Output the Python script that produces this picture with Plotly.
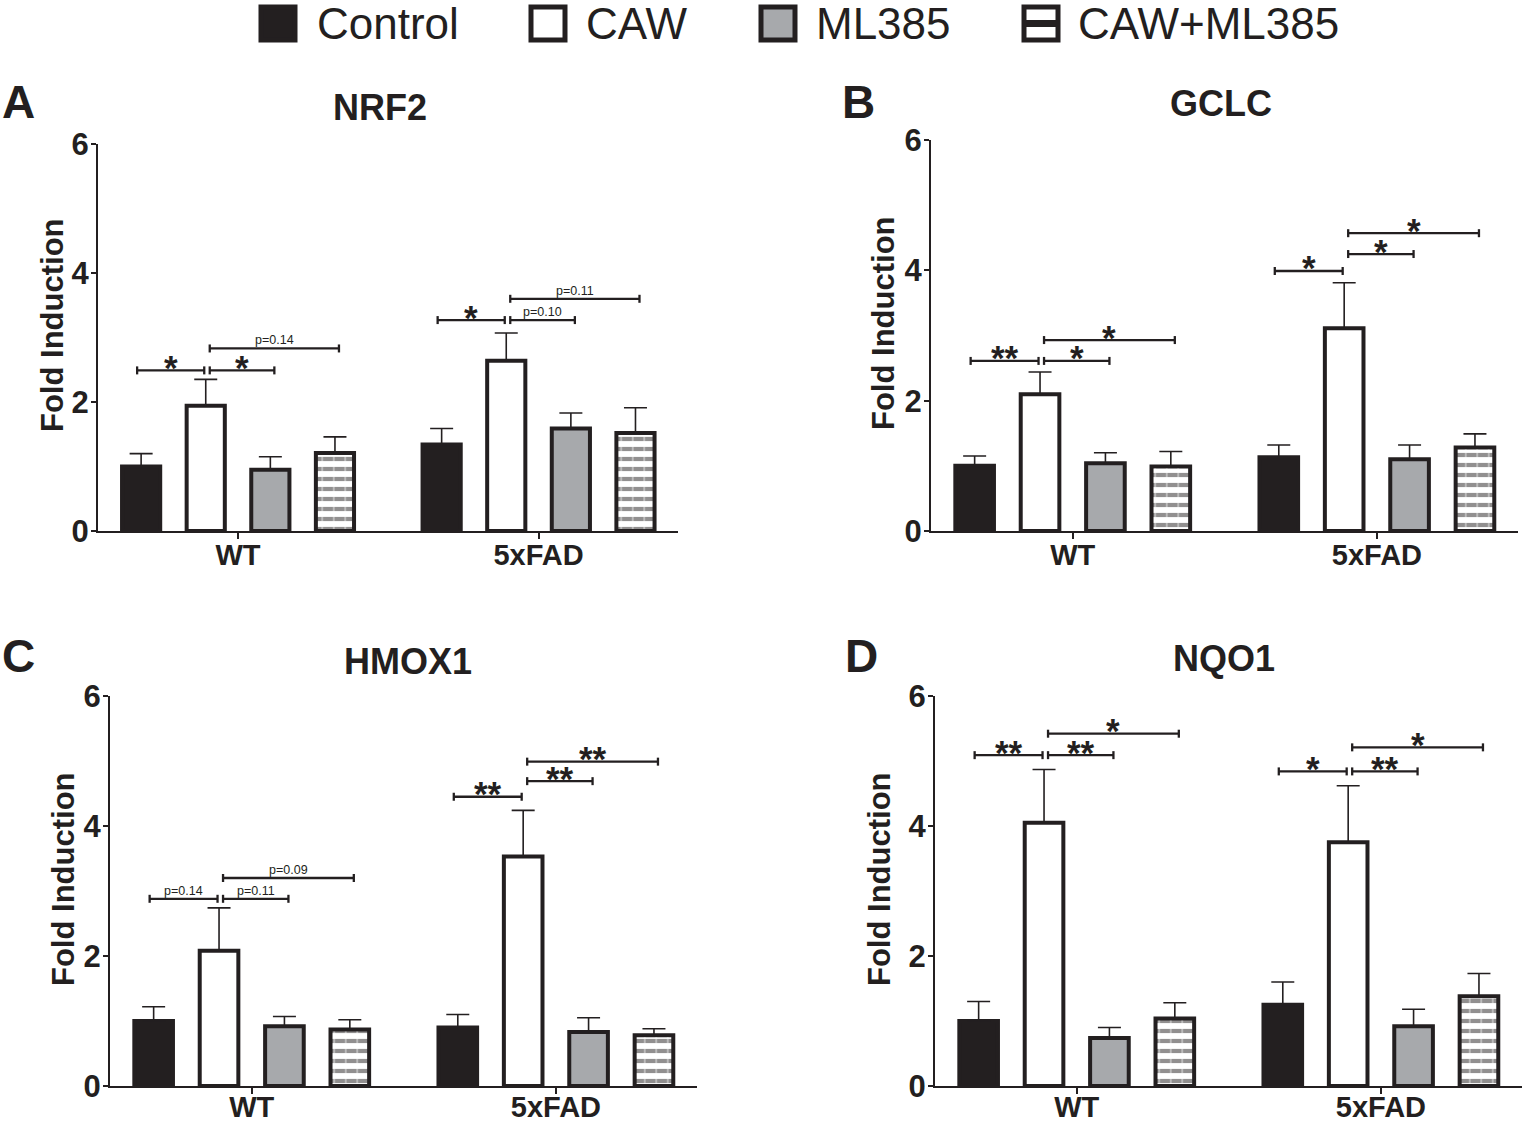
import plotly.graph_objects as go

# ---------------- data ----------------
groups = ["WT", "5xFAD"]
series = ["Control", "CAW", "ML385", "CAW+ML385"]
y_ticks = [0, 2, 4, 6]
panel_titles = ["NRF2", "GCLC", "HMOX1", "NQO1"]
panel_letters = ["A", "B", "C", "D"]
y_title = "Fold Induction"

# means per series (rows: Control, CAW, ML385, CAW+ML385; cols: WT, 5xFAD)
nrf2_mean = [[1.00, 1.34], [1.94, 2.64], [0.95, 1.59], [1.21, 1.52]]
nrf2_sem = [[0.20, 0.25], [0.41, 0.43], [0.20, 0.24], [0.25, 0.39]]
gclc_mean = [[1.00, 1.13], [2.10, 3.11], [1.04, 1.10], [0.99, 1.28]]
gclc_sem = [[0.15, 0.19], [0.34, 0.70], [0.16, 0.22], [0.23, 0.21]]
hmox1_mean = [[1.00, 0.90], [2.08, 3.53], [0.92, 0.83], [0.87, 0.78]]
hmox1_sem = [[0.22, 0.20], [0.66, 0.71], [0.15, 0.22], [0.15, 0.10]]
nqo1_mean = [[1.00, 1.25], [4.05, 3.75], [0.74, 0.92], [1.04, 1.38]]
nqo1_sem = [[0.30, 0.35], [0.82, 0.87], [0.16, 0.26], [0.24, 0.35]]

# significance brackets: (group index, series from, series to, height, label)
nrf2_sig = [(0, 0, 1, 2.49, "*"), (0, 1, 2, 2.49, "*"), (0, 1, 3, 2.83, "p=0.14"),
            (1, 0, 1, 3.27, "*"), (1, 1, 2, 3.27, "p=0.10"), (1, 1, 3, 3.60, "p=0.11")]
gclc_sig = [(0, 0, 1, 2.61, "**"), (0, 1, 2, 2.61, "*"), (0, 1, 3, 2.93, "*"),
            (1, 0, 1, 3.99, "*"), (1, 1, 2, 4.25, "*"), (1, 1, 3, 4.57, "*")]
hmox1_sig = [(0, 0, 1, 2.88, "p=0.14"), (0, 1, 2, 2.88, "p=0.11"), (0, 1, 3, 3.20, "p=0.09"),
             (1, 0, 1, 4.45, "**"), (1, 1, 2, 4.69, "**"), (1, 1, 3, 4.99, "**")]
nqo1_sig = [(0, 0, 1, 5.09, "**"), (0, 1, 2, 5.09, "**"), (0, 1, 3, 5.42, "*"),
            (1, 0, 1, 4.84, "*"), (1, 1, 2, 4.84, "**"), (1, 1, 3, 5.21, "*")]

panel_means = [nrf2_mean, gclc_mean, hmox1_mean, nqo1_mean]
panel_sems = [nrf2_sem, gclc_sem, hmox1_sem, nqo1_sem]
panel_sigs = [nrf2_sig, gclc_sig, hmox1_sig, nqo1_sig]

# ---------------- style / layout ----------------
W, H = 1524, 1122
BLACK = "#231f20"
GRAY = "#a7a9ac"
FONT = "Liberation Sans, Arial, sans-serif"
fills = [BLACK, "white", GRAY, "white"]

# plot boxes in pixels: (left, right, top(y=6), bottom(y=0))
boxes = [(98, 678, 144, 531), (931, 1518, 140, 531),
         (110, 697, 696, 1086), (935, 1522, 696, 1086)]
xlabel_standoff = [-9, -9, -12, -12]
XR = [-0.466, 1.464]
SPACING = 0.215
BAR_W = 0.127
LW = 4

title_pos = [(380, 108), (1221, 103), (408, 661), (1224, 658)]
letter_pos = [(0, 102), (840, 102), (0, 656), (843, 656)]
ytitle_pos = [(52, 325), (884, 323), (63, 879), (879, 879)]


def px(x):
    return x / W


def py(y):
    return 1 - y / H


fig = go.Figure()
shapes = []
annotations = []
layout_axes = {}

for k in range(4):
    x0, x1, yt, yb = boxes[k]
    sfx = "" if k == 0 else str(k + 1)
    xref, yref = "x" + sfx, "y" + sfx
    pxx = (x1 - x0) / (XR[1] - XR[0])
    pxy = (yb - yt) / 6.0
    layout_axes["xaxis" + sfx] = dict(
        domain=[px(x0), px(x1)], range=XR, anchor=yref, automargin=False,
        tickvals=[0, 1], ticktext=groups, showline=True, linecolor=BLACK,
        linewidth=2, ticks="outside", ticklen=6, tickwidth=2, tickcolor=BLACK,
        ticklabelstandoff=xlabel_standoff[k],
        tickfont=dict(family=FONT, size=29, color=BLACK, weight="bold"),
        showgrid=False, zeroline=False, fixedrange=True)
    layout_axes["yaxis" + sfx] = dict(
        domain=[py(yb), py(yt)], range=[0, 6], anchor=xref, automargin=False,
        tickvals=y_ticks, showline=True, linecolor=BLACK, linewidth=2,
        ticks="outside", ticklen=5, tickwidth=2, tickcolor=BLACK,
        ticklabelstandoff=-4,
        tickfont=dict(family=FONT, size=31, color=BLACK, weight="bold"),
        showgrid=False, zeroline=False, fixedrange=True)

    means, sems = panel_means[k], panel_sems[k]
    for i, name in enumerate(series):
        xs = [g + (i - 1.5) * SPACING for g in range(len(groups))]
        marker = dict(color=fills[i], line=dict(color=BLACK, width=LW))
        if i == 3:
            marker["pattern"] = dict(shape="-", fgcolor=BLACK, bgcolor="white",
                                     size=10, solidity=0.42)
        fig.add_trace(go.Bar(
            x=xs, y=means[i], width=BAR_W, marker=marker, name=name,
            showlegend=False, xaxis=xref, yaxis=yref,
            error_y=dict(type="data", symmetric=False, array=sems[i],
                         arrayminus=[0] * len(sems[i]), color=BLACK,
                         thickness=1.6, width=11.5)))
        if i == 3:
            inset_y = (LW / 2) / pxy
            fig.add_trace(go.Bar(
                x=xs, y=[m - 2 * inset_y for m in means[i]], base=inset_y,
                width=BAR_W - LW / pxx, showlegend=False, hoverinfo="skip",
                xaxis=xref, yaxis=yref,
                marker=dict(color="rgba(0,0,0,0)", line=dict(width=0),
                            pattern=dict(shape="|", fgcolor="white",
                                         bgcolor="rgba(0,0,0,0)",
                                         size=11.5, solidity=0.13))))

    # significance brackets
    dy = 4.0 / pxy
    for (g, a, b, h, lab) in panel_sigs[k]:
        xa = g + (a - 1.5) * SPACING
        xb = g + (b - 1.5) * SPACING
        if a == 0:
            xl, xr_ = xa - 4.0 / pxx, xb - 1.5 / pxx
        else:
            xl, xr_ = xa + 4.0 / pxx, xb + 4.0 / pxx
        line = dict(color=BLACK, width=2.3)
        shapes.append(dict(type="line", xref=xref, yref=yref, x0=xl, x1=xr_, y0=h, y1=h, line=line))
        shapes.append(dict(type="line", xref=xref, yref=yref, x0=xl, x1=xl, y0=h - dy, y1=h + dy, line=line))
        shapes.append(dict(type="line", xref=xref, yref=yref, x0=xr_, x1=xr_, y0=h - dy, y1=h + dy, line=line))
        if lab.startswith("p"):
            annotations.append(dict(x=(xl + xr_) / 2, y=h, xref=xref, yref=yref, text=lab,
                                    showarrow=False, xanchor="center", yanchor="bottom",
                                    yshift=-1, font=dict(family=FONT, size=12.5, color=BLACK)))
        else:
            annotations.append(dict(x=(xl + xr_) / 2, y=h, xref=xref, yref=yref, text=lab,
                                    showarrow=False, xanchor="center", yanchor="middle",
                                    yshift=3, font=dict(family=FONT, size=35, color=BLACK,
                                                        weight="bold")))

    # titles, letters, y titles
    tx, ty = title_pos[k]
    annotations.append(dict(x=px(tx), y=py(ty), xref="paper", yref="paper", text=panel_titles[k],
                            showarrow=False, xanchor="center", yanchor="middle",
                            font=dict(family=FONT, size=36, color=BLACK, weight="bold")))
    lx, ly = letter_pos[k]
    annotations.append(dict(x=px(lx), y=py(ly), xref="paper", yref="paper", text=panel_letters[k],
                            showarrow=False, xanchor="left", yanchor="middle",
                            font=dict(family=FONT, size=46, color=BLACK, weight="bold")))
    yx, yy = ytitle_pos[k]
    annotations.append(dict(x=px(yx), y=py(yy), xref="paper", yref="paper", text=y_title,
                            showarrow=False, xanchor="center", yanchor="middle", textangle=-90,
                            font=dict(family=FONT, size=31, color=BLACK, weight="bold")))

# ---------------- custom legend ----------------
leg_swatch_x = [261, 531, 761, 1024]
leg_text_x = [315, 584, 814, 1076]
SW = 34
sy0, sy1 = 7, 40
for i, name in enumerate(series):
    x0 = leg_swatch_x[i]
    shapes.append(dict(type="rect", xref="paper", yref="paper",
                       x0=px(x0), x1=px(x0 + SW), y0=py(sy1), y1=py(sy0),
                       fillcolor=fills[i], line=dict(color=BLACK, width=LW + 1)))
    if i == 3:
        shapes.append(dict(type="rect", xref="paper", yref="paper",
                           x0=px(x0), x1=px(x0 + SW), y0=py(27), y1=py(20),
                           fillcolor=BLACK, line=dict(width=0)))
    annotations.append(dict(x=px(leg_text_x[i]), y=py(23.5), xref="paper", yref="paper",
                            text=name, showarrow=False, xanchor="left", yanchor="middle",
                            font=dict(family=FONT, size=44, color=BLACK)))

fig.update_layout(
    width=W, height=H, autosize=False,
    margin=dict(l=0, r=0, t=0, b=0, pad=0, autoexpand=False),
    paper_bgcolor="white", plot_bgcolor="white",
    barmode="overlay", showlegend=False,
    shapes=shapes, annotations=annotations,
    **layout_axes)

post = ("document.documentElement.style.margin='0';"
        "document.documentElement.style.padding='0';"
        "document.documentElement.style.overflow='hidden';"
        "document.body.style.margin='0';document.body.style.padding='0';"
        "document.body.style.overflow='hidden';")
fig.write_html("out.html", config={"displayModeBar": False}, post_script=post)
